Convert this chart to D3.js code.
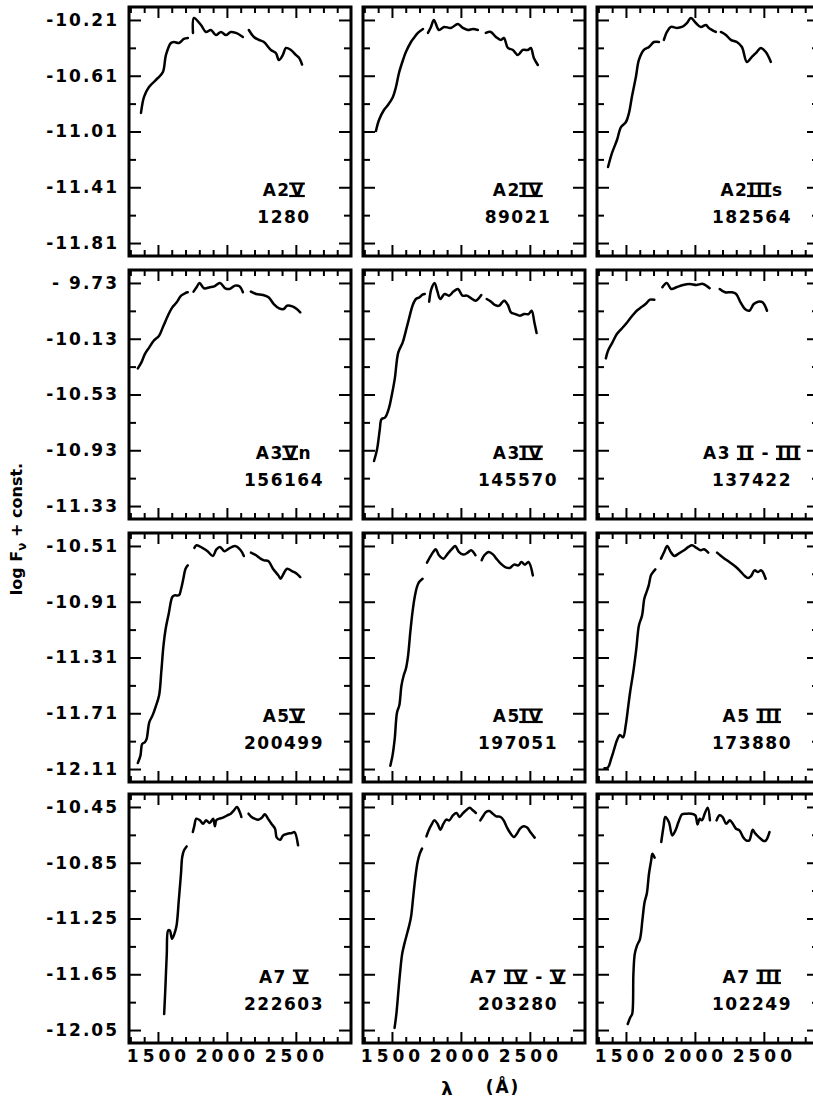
<!DOCTYPE html>
<html><head>
<meta charset="utf-8">
<title>Ultraviolet spectra of A2 - A7 stars</title>
<script src="https://d3js.org/d3.v7.min.js"></script>
<style>
  body { margin: 0; background: #fff; }
  svg text { font-family: "DejaVu Sans", sans-serif; font-weight: bold; fill: #000; }
</style>
</head>
<body>
<svg id="chart" width="813" height="1098"></svg>
<script>

// ---- values ----
const waveDomain = [1290, 2900];
const waveTicks = [1500, 2000, 2500];
const waveMinorTicks = d3.range(1300, 2900, 100).filter(d => !waveTicks.includes(d));
const rowTopTicks = [-10.21, -9.73, -10.51, -10.45];   // top labelled log F tick of each row
const tickStep = 0.4;

const spectralTypes = ["A2{V}", "A2{IV}", "A2{III}s",
                       "A3{V}n", "A3{IV}", "A3 {II} - {III}",
                       "A5{V}", "A5{IV}", "A5 {III}",
                       "A7 {V}", "A7 {IV} - {V}", "A7 {III}"];
const hdNumbers = ["1280", "89021", "182564",
                   "156164", "145570", "137422",
                   "200499", "197051", "173880",
                   "222603", "203280", "102249"];

// each spectrum: list of segments of [wavelength, log F]
const specA2V = [
  [[1377,-10.877],[1399,-10.762],[1435,-10.691],[1500,-10.626],[1536,-10.583],[1558,-10.461],[1594,-10.375],[1616,-10.368],[1652,-10.375],[1688,-10.346],[1717,-10.339]],
  [[1754,-10.303],[1761,-10.196],[1812,-10.246],[1848,-10.296],[1884,-10.282],[1920,-10.318],[1957,-10.296],[1993,-10.318],[2029,-10.296],[2065,-10.303],[2116,-10.332]],
  [[2159,-10.282],[2196,-10.332],[2232,-10.353],[2268,-10.368],[2319,-10.425],[2355,-10.447],[2377,-10.497],[2406,-10.461],[2428,-10.411],[2464,-10.425],[2500,-10.461],[2522,-10.48],[2545,-10.53]]
];
const specA2IV = [
  [[1384,-11.006],[1406,-10.927],[1442,-10.856],[1471,-10.820],[1507,-10.762],[1529,-10.691],[1551,-10.590],[1580,-10.497],[1601,-10.440],[1638,-10.368],[1659,-10.339],[1688,-10.303],[1725,-10.275]],
  [[1761,-10.303],[1783,-10.260],[1804,-10.210],[1841,-10.282],[1877,-10.260],[1928,-10.267],[1978,-10.239],[2014,-10.267],[2051,-10.282],[2087,-10.275],[2123,-10.282]],
  [[2181,-10.303],[2217,-10.296],[2254,-10.332],[2290,-10.353],[2312,-10.339],[2341,-10.411],[2377,-10.425],[2413,-10.461],[2449,-10.425],[2486,-10.425],[2507,-10.411],[2529,-10.483],[2558,-10.533]]
];
const specA2IIIs = [
  [[1370,-11.265],[1399,-11.164],[1435,-11.071],[1464,-10.978],[1500,-10.942],[1522,-10.877],[1543,-10.762],[1572,-10.619],[1594,-10.497],[1630,-10.425],[1667,-10.404],[1703,-10.368],[1739,-10.368]],
  [[1775,-10.353],[1797,-10.296],[1826,-10.260],[1870,-10.267],[1906,-10.260],[1942,-10.232],[1971,-10.196],[2007,-10.232],[2043,-10.260],[2080,-10.246],[2101,-10.267],[2152,-10.296]],
  [[2188,-10.296],[2225,-10.318],[2261,-10.353],[2304,-10.368],[2341,-10.404],[2377,-10.511],[2413,-10.475],[2449,-10.440],[2478,-10.411],[2514,-10.440],[2551,-10.511]]
];
const specA3Vn = [
  [[1354,-10.343],[1380,-10.300],[1405,-10.240],[1437,-10.192],[1469,-10.144],[1508,-10.108],[1540,-10.037],[1572,-9.965],[1604,-9.905],[1636,-9.869],[1668,-9.821],[1700,-9.802],[1716,-9.797]],
  [[1758,-9.792],[1780,-9.761],[1802,-9.730],[1834,-9.768],[1876,-9.761],[1908,-9.754],[1950,-9.730],[1988,-9.768],[2020,-9.773],[2059,-9.749],[2091,-9.754],[2116,-9.797]],
  [[2174,-9.792],[2212,-9.809],[2260,-9.816],[2302,-9.833],[2340,-9.881],[2379,-9.912],[2411,-9.917],[2436,-9.893],[2475,-9.898],[2507,-9.917],[2532,-9.941]]
];
const specA3IV = [
  [[1370,-11.007],[1392,-10.923],[1412,-10.779],[1424,-10.707],[1450,-10.695],[1476,-10.635],[1498,-10.539],[1520,-10.420],[1546,-10.228],[1578,-10.156],[1604,-10.061],[1626,-9.977],[1649,-9.893],[1674,-9.845],[1700,-9.833],[1722,-9.814],[1738,-9.809]],
  [[1770,-9.864],[1786,-9.773],[1809,-9.730],[1828,-9.785],[1850,-9.845],[1882,-9.809],[1914,-9.821],[1946,-9.792],[1979,-9.773],[2011,-9.821],[2043,-9.821],[2075,-9.840],[2107,-9.857],[2148,-9.816]],
  [[2187,-9.845],[2219,-9.864],[2245,-9.888],[2277,-9.893],[2299,-9.869],[2315,-9.857],[2341,-9.888],[2363,-9.941],[2395,-9.953],[2427,-9.965],[2459,-9.953],[2491,-9.953],[2513,-9.929],[2533,-10.013],[2549,-10.089]]
];
const specA3IIIII = [
  [[1354,-10.271],[1370,-10.216],[1402,-10.156],[1434,-10.096],[1466,-10.061],[1508,-10.013],[1546,-9.965],[1578,-9.929],[1610,-9.905],[1642,-9.881],[1674,-9.850],[1706,-9.850]],
  [[1764,-9.761],[1796,-9.730],[1828,-9.773],[1866,-9.761],[1914,-9.744],[1962,-9.737],[2011,-9.744],[2059,-9.737],[2107,-9.768]],
  [[2180,-9.773],[2219,-9.797],[2267,-9.797],[2299,-9.809],[2331,-9.869],[2363,-9.917],[2395,-9.929],[2427,-9.881],[2459,-9.864],[2491,-9.869],[2523,-9.929]]
];
const specA5V = [
  [[1354,-12.067],[1373,-12.014],[1386,-11.930],[1405,-11.918],[1418,-11.894],[1437,-11.775],[1460,-11.727],[1482,-11.667],[1508,-11.583],[1524,-11.415],[1540,-11.224],[1556,-11.104],[1578,-10.996],[1604,-10.876],[1620,-10.864],[1652,-10.864],[1668,-10.817],[1684,-10.745],[1700,-10.673],[1716,-10.649]],
  [[1764,-10.524],[1780,-10.505],[1822,-10.524],[1860,-10.548],[1898,-10.582],[1924,-10.534],[1950,-10.517],[1982,-10.548],[2014,-10.529],[2059,-10.510],[2100,-10.541],[2123,-10.582]],
  [[2174,-10.558],[2212,-10.577],[2244,-10.601],[2270,-10.613],[2302,-10.620],[2334,-10.673],[2373,-10.721],[2389,-10.745],[2411,-10.709],[2436,-10.673],[2475,-10.692],[2507,-10.709],[2532,-10.733]]
];
const specA5IV = [
  [[1488,-12.086],[1504,-12.014],[1520,-11.894],[1537,-11.703],[1553,-11.655],[1569,-11.511],[1585,-11.439],[1601,-11.391],[1617,-11.296],[1633,-11.128],[1649,-10.984],[1665,-10.876],[1681,-10.805],[1697,-10.769],[1722,-10.745]],
  [[1754,-10.630],[1777,-10.589],[1799,-10.553],[1818,-10.534],[1841,-10.577],[1873,-10.601],[1905,-10.565],[1937,-10.529],[1959,-10.510],[1985,-10.553],[2017,-10.572],[2049,-10.558],[2074,-10.541],[2106,-10.577]],
  [[2151,-10.613],[2170,-10.577],[2202,-10.553],[2234,-10.572],[2257,-10.601],[2289,-10.637],[2321,-10.661],[2353,-10.668],[2385,-10.644],[2417,-10.649],[2439,-10.625],[2465,-10.644],[2490,-10.625],[2522,-10.721]]
];
const specA5III = [
  [[1344,-12.105],[1370,-12.098],[1392,-12.038],[1415,-11.966],[1434,-11.906],[1456,-11.866],[1479,-11.882],[1498,-11.798],[1511,-11.703],[1530,-11.559],[1553,-11.415],[1575,-11.248],[1594,-11.080],[1617,-11.008],[1633,-10.888],[1649,-10.841],[1665,-10.793],[1681,-10.721],[1697,-10.697],[1713,-10.678]],
  [[1754,-10.601],[1777,-10.553],[1799,-10.510],[1825,-10.553],[1850,-10.582],[1882,-10.565],[1921,-10.541],[1953,-10.517],[1979,-10.505],[2011,-10.524],[2043,-10.541],[2065,-10.534],[2097,-10.558]],
  [[2161,-10.558],[2183,-10.577],[2215,-10.601],[2257,-10.630],[2298,-10.661],[2330,-10.692],[2362,-10.726],[2385,-10.740],[2407,-10.726],[2433,-10.685],[2458,-10.697],[2481,-10.685],[2513,-10.745]]
];
const specA7V = [
  [[1545,-11.935],[1554,-11.743],[1564,-11.504],[1574,-11.336],[1586,-11.336],[1602,-11.396],[1619,-11.360],[1635,-11.300],[1651,-11.121],[1667,-10.929],[1676,-10.809],[1689,-10.761],[1708,-10.733]],
  [[1753,-10.630],[1763,-10.589],[1779,-10.534],[1804,-10.546],[1827,-10.570],[1849,-10.546],[1875,-10.565],[1900,-10.534],[1913,-10.589],[1923,-10.546],[1945,-10.534],[1971,-10.527],[2003,-10.510],[2028,-10.498],[2051,-10.474],[2073,-10.450],[2093,-10.486],[2105,-10.522]],
  [[2157,-10.498],[2179,-10.522],[2201,-10.534],[2227,-10.541],[2253,-10.527],[2275,-10.503],[2298,-10.534],[2323,-10.570],[2349,-10.606],[2362,-10.670],[2387,-10.685],[2407,-10.654],[2439,-10.642],[2471,-10.637],[2490,-10.630],[2516,-10.725]]
];
const specA7IVV = [
  [[1519,-12.035],[1532,-11.935],[1545,-11.791],[1558,-11.648],[1574,-11.504],[1590,-11.432],[1606,-11.372],[1622,-11.312],[1638,-11.240],[1654,-11.097],[1670,-10.953],[1686,-10.845],[1702,-10.785],[1718,-10.749]],
  [[1750,-10.661],[1766,-10.618],[1788,-10.575],[1807,-10.546],[1830,-10.570],[1852,-10.613],[1871,-10.575],[1894,-10.541],[1916,-10.546],[1942,-10.510],[1968,-10.493],[1990,-10.522],[2012,-10.498],[2038,-10.474],[2064,-10.455],[2086,-10.474],[2109,-10.493]],
  [[2141,-10.546],[2160,-10.517],[2182,-10.486],[2205,-10.479],[2231,-10.498],[2256,-10.517],[2288,-10.522],[2310,-10.546],[2333,-10.594],[2358,-10.637],[2384,-10.666],[2406,-10.642],[2429,-10.606],[2455,-10.589],[2480,-10.598],[2503,-10.630],[2535,-10.670]]
];
const specA7III = [
  [[1513,-12.007],[1532,-11.959],[1545,-11.935],[1554,-11.648],[1564,-11.504],[1580,-11.444],[1602,-11.396],[1619,-11.264],[1635,-11.133],[1651,-11.073],[1667,-10.929],[1683,-10.833],[1692,-10.785],[1708,-10.814]],
  [[1756,-10.701],[1772,-10.594],[1785,-10.522],[1811,-10.558],[1836,-10.654],[1859,-10.618],[1881,-10.558],[1907,-10.503],[1939,-10.498],[1971,-10.498],[2003,-10.510],[2019,-10.575],[2035,-10.534],[2051,-10.546],[2073,-10.493],[2093,-10.455],[2109,-10.546]],
  [[2157,-10.546],[2179,-10.510],[2201,-10.522],[2227,-10.570],[2253,-10.546],[2275,-10.570],[2298,-10.606],[2323,-10.618],[2349,-10.666],[2371,-10.690],[2394,-10.690],[2419,-10.613],[2435,-10.637],[2451,-10.654],[2477,-10.678],[2499,-10.694],[2515,-10.690],[2541,-10.630]]
];
const spectra = [specA2V, specA2IV, specA2IIIs,
                 specA3Vn, specA3IV, specA3IIIII,
                 specA5V, specA5IV, specA5III,
                 specA7V, specA7IVV, specA7III];

// ---- layout ----
const colLeft = [129, 363, 597];
const rowTop = [7, 270, 533, 794];
const panelW = 222, panelH = 249;
const pad = 0.093;            // log F between a frame edge and the outer labelled tick

const svg = d3.select("#chart");
const x = d3.scaleLinear().domain(waveDomain).range([0, panelW]);

const fmtLog = v => (v > -10 ? "- " : "-") + Math.abs(v).toFixed(2);

function styleAxis(sel) {
  sel.select(".domain").remove();
  sel.selectAll(".tick line").attr("stroke", "#000").attr("stroke-width", 2);
}

spectra.forEach((segs, i) => {
  const row = Math.floor(i / 3), col = i % 3;
  const top = rowTopTicks[row];
  const y = d3.scaleLinear().domain([top - 4 * tickStep - pad, top + pad]).range([panelH, 0]);
  const majorY = d3.range(5).map(k => +(top - k * tickStep).toFixed(2));
  const minorY = d3.range(4).map(k => +(top - tickStep / 2 - k * tickStep).toFixed(2));

  const g = svg.append("g").attr("transform", `translate(${colLeft[col]},${rowTop[row]})`);

  // ticks on all four sides, pointing inward
  g.append("g").call(d3.axisLeft(y).tickValues(majorY).tickSize(-12).tickPadding(10)
      .tickFormat(col === 0 ? fmtLog : ""))
    .call(styleAxis)
    .selectAll("text").attr("font-size", 17).attr("letter-spacing", 2)
      .attr("font-family", "DejaVu Sans").attr("font-weight", "bold");
  g.append("g").call(d3.axisLeft(y).tickValues(minorY).tickSize(-7).tickFormat("")).call(styleAxis);
  g.append("g").attr("transform", `translate(${panelW},0)`)
    .call(d3.axisRight(y).tickValues(majorY).tickSize(-12).tickFormat("")).call(styleAxis);
  g.append("g").attr("transform", `translate(${panelW},0)`)
    .call(d3.axisRight(y).tickValues(minorY).tickSize(-7).tickFormat("")).call(styleAxis);

  const bottom = g.append("g").attr("transform", `translate(0,${panelH})`)
    .call(d3.axisBottom(x).tickValues(waveTicks).tickSize(-11).tickPadding(7)
      .tickFormat(row === 3 ? d3.format("d") : ""))
    .call(styleAxis);
  bottom.selectAll("text").attr("font-size", 17).attr("letter-spacing", 4)
    .attr("font-family", "DejaVu Sans").attr("font-weight", "bold");
  g.append("g").attr("transform", `translate(0,${panelH})`)
    .call(d3.axisBottom(x).tickValues(waveMinorTicks).tickSize(-6).tickFormat("")).call(styleAxis);
  g.append("g").call(d3.axisTop(x).tickValues(waveTicks).tickSize(-11).tickFormat("")).call(styleAxis);
  g.append("g").call(d3.axisTop(x).tickValues(waveMinorTicks).tickSize(-6).tickFormat("")).call(styleAxis);

  // frame
  g.append("rect").attr("width", panelW).attr("height", panelH)
    .attr("fill", "none").attr("stroke", "#000").attr("stroke-width", 3);

  // spectrum, drawn as separate pieces
  const path = d3.line().x(d => x(d[0])).y(d => y(d[1])).curve(d3.curveCatmullRom.alpha(0.5));
  g.selectAll("path.spec").data(segs).join("path")
    .attr("class", "spec")
    .attr("d", path)
    .attr("fill", "none").attr("stroke", "#000").attr("stroke-width", 2.5)
    .attr("stroke-linejoin", "round").attr("stroke-linecap", "round");

  // star label: spectral type (roman numerals with bars) and HD number
  const fs = 17, cx = 155, base1 = 189, base2 = 216;
  const parts = spectralTypes[i].split(/(\{[^}]*\})/).filter(s => s.length);
  const t1 = g.append("text").attr("x", cx).attr("y", base1).attr("text-anchor", "middle")
    .attr("font-size", fs).attr("letter-spacing", 1.5);
  const romanRanges = [];
  let idx = 0;
  parts.forEach(p => {
    const roman = p.startsWith("{");
    const s = roman ? p.slice(1, -1) : p;
    t1.append("tspan").text(s);
    if (roman) romanRanges.push([idx, idx + s.length - 1]);
    idx += s.length;
  });
  const node = t1.node();
  romanRanges.forEach(([a, b]) => {
    const x0 = node.getStartPositionOfChar(a).x - 1.5;
    const x1 = node.getEndPositionOfChar(b).x - 0.5;
    [base1, base1 - fs * 0.73].forEach(yy => {
      g.append("line").attr("x1", x0).attr("x2", x1).attr("y1", yy).attr("y2", yy)
        .attr("stroke", "#000").attr("stroke-width", 2.2);
    });
  });
  g.append("text").attr("x", cx).attr("y", base2).attr("text-anchor", "middle")
    .attr("font-size", fs).attr("letter-spacing", 1.5).text(hdNumbers[i]);
});

// axis titles
const yTitle = svg.append("text")
  .attr("transform", "translate(22,529) rotate(-90)")
  .attr("text-anchor", "middle").attr("font-size", 16);
yTitle.append("tspan").text("log F");
yTitle.append("tspan").attr("font-size", 12).attr("dy", 4).text("\u03bd");
yTitle.append("tspan").attr("dy", -4).text(" + const.");

svg.append("text").attr("x", 447).attr("y", 1095).attr("text-anchor", "middle")
  .attr("font-size", 18).text("\u03bb");
svg.append("text").attr("x", 503).attr("y", 1093).attr("text-anchor", "middle")
  .attr("font-size", 17).attr("letter-spacing", 2).text("(\u00c5)");

</script>
</body>
</html>
